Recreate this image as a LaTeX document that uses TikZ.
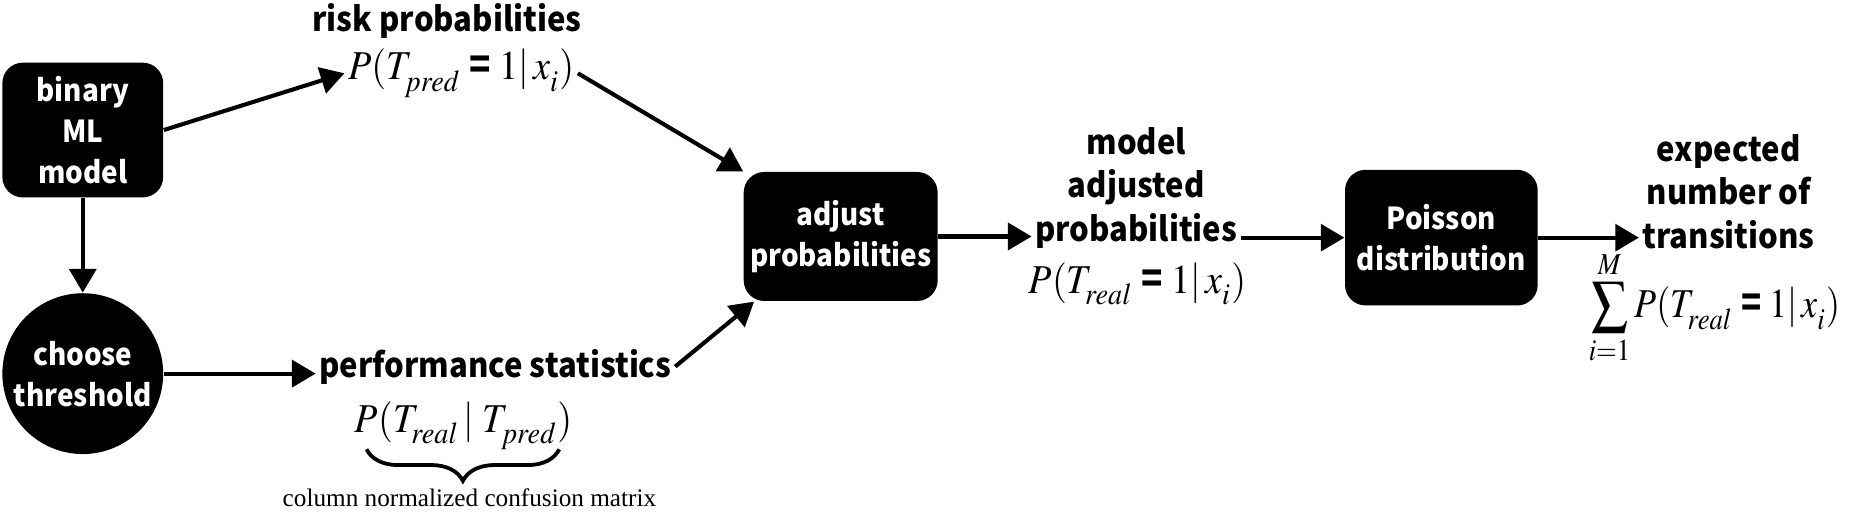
\documentclass[tikz,border=0pt]{standalone}
\usepackage{mathptmx}
\usepackage{fontspec}
\setmainfont{Liberation Serif}
\newfontfamily\bsf{Noto Sans CJK SC}[FakeStretch=0.92]
\usetikzlibrary{shapes.geometric,arrows.meta,decorations.pathreplacing}
\newcommand\beq{\mathrel{\hbox{\bsf\bfseries =}}}
\newcommand\lsub[1]{_{\lower1.8pt\hbox{$\scriptstyle #1$}}}
\begin{document}
\begin{tikzpicture}[x=0.375pt,y=-0.375pt,
  arr/.style={line width=1.3pt,-{Triangle[length=7.5pt,width=8.5pt]}},
  blackbox/.style={fill=black,text=white,rounded corners=6.5pt,align=center,font=\bsf\bfseries\fontsize{9.6}{13}\selectfont,inner sep=0pt},
  lbl/.style={align=center,font=\bsf\bfseries\fontsize{10.7}{13.8}\selectfont,inner sep=1pt},
  frm/.style={font=\fontsize{13}{15}\selectfont,inner sep=1pt}]
\useasboundingbox (0,0) rectangle (1568,440);
\node[blackbox,minimum width=51pt,minimum height=42.75pt] (bin) at (70,110) {binary\\ML\\model};
\node[blackbox,ellipse,inner sep=-8pt,minimum width=51pt,minimum height=51pt] (thr) at (70,316) {choose\\threshold};
\node[lbl] (risk) at (378,18) {risk probabilities};
\node[frm] (riskf) at (390,62) {\scalebox{0.93}[1]{$P(T\lsub{pred}\beq 1|\, x\lsub{i})$}};
\node[lbl] (perf) at (419,310) {performance statistics};
\node[frm] (perff) at (392,360) {\scalebox{0.93}[1]{$P(T\lsub{real}\,|\;T\lsub{pred})$}};
\node[font=\fontsize{8}{10}\selectfont,inner sep=1pt] (cap) at (397,421) {column normalized confusion matrix};
\node[blackbox,minimum width=61.5pt,minimum height=40.9pt] (adj) at (711,200) {adjust\\probabilities};
\node[lbl] (model) at (961,159) {model\\adjusted\\probabilities};
\node[frm] (modelf) at (962,240) {\scalebox{0.93}[1]{$P(T\lsub{real}\beq 1|\, x\lsub{i})$}};
\node[blackbox,minimum width=61.1pt,minimum height=43pt] (poi) at (1219,201) {Poisson\\distribution};
\node[lbl] (exp) at (1462,162) {expected\\number of\\transitions};
\node[frm] (expf) at (1450,260) {\scalebox{0.88}[1]{$\displaystyle\sum_{i=1}^{M} P(T\lsub{real}\beq 1|\, x\lsub{i})$}};
\coordinate (bl) at (310,380);
\coordinate (br) at (473,380);
\draw[line width=1.2pt,decorate,decoration={brace,mirror,amplitude=10pt}] (bl) -- (br);
\draw[arr] (bin.east) -- (riskf.west);
\draw[arr] (riskf.east) -- (adj.north west);
\draw[arr] (bin.south) -- (thr.north);
\draw[arr] (thr.east) -- (thr.east -| perf.west);
\draw[arr] (perf.east) -- ([xshift=3.5pt]adj.south west);
\draw[arr] (adj.east) -- (adj.east -| model.west);
\draw[arr] (model.east |- poi.west) -- (poi.west);
\draw[arr] (poi.east) -- (poi.east -| exp.west);
\end{tikzpicture}
\end{document}
